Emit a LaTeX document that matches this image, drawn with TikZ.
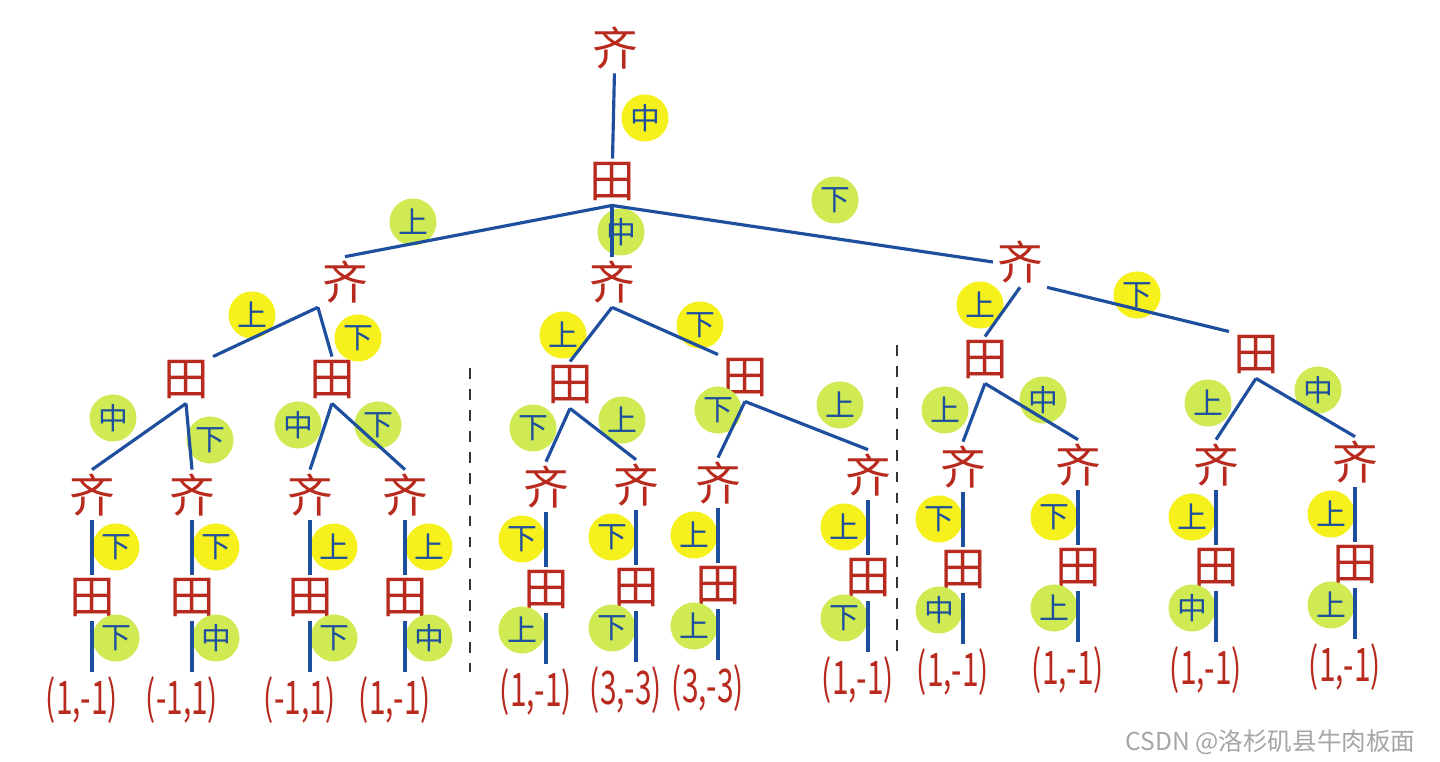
\documentclass[tikz,border=0pt]{standalone}
\usepackage{fontspec}
\newfontfamily\cjk{Noto Sans CJK SC}
\usepackage{xcolor}
\usetikzlibrary{positioning}
\definecolor{qired}{HTML}{B82A1E}
\definecolor{moveblue}{HTML}{1D4F9E}
\definecolor{qimove}{HTML}{F6F01C}
\definecolor{tianmove}{HTML}{CFEA52}

\begin{document}
\begin{tikzpicture}[x=0.01cm, y=-0.01cm,
    player/.style={text=qired, font=\cjk\fontsize{13}{13}\selectfont, inner sep=1pt},
    payoff/.style={text=qired, font=\cjk\fontsize{8.5}{8.5}\selectfont, inner sep=1pt},
    qimv/.style={circle, fill=qimove, text=moveblue, minimum size=0.47cm,
                 inner sep=0pt, font=\cjk\fontsize{8.5}{8.5}\selectfont},
    tianmv/.style={qimv, fill=tianmove},
    edge/.style={moveblue, line width=0.9pt},
    sep/.style={dashed, line width=0.5pt, black!80}
]
    \fill[white] (0,0) rectangle (1440,762);
    \useasboundingbox (0,0) rectangle (1440,762);

    % root and first move
    \node[player] (q0) at (615,48) {齐};
    \node[qimv] (m0) at (645,118) {中};
    \node[player] (t0) at (612,182) {田};

    % second level
    \node[player] (q1) at (345,282) {齐};
    \node[player] (q2) at (612,282) {齐};
    \node[player] (q3) at (1020,262) {齐};
    \node[tianmv] (m1) at (413,222) {上};
    \node[tianmv] (m2) at (621,232) {中};
    \node[tianmv] (m3) at (835,200) {下};

    % third level
    \node[player] (t1) at (186,380) {田};
    \node[player] (t2) at (332,380) {田};
    \node[player] (t3) at (570,385) {田};
    \node[player] (t4) at (745,378) {田};
    \node[player] (t5) at (985,360) {田};
    \node[player] (t6) at (1256,355) {田};
    \node[qimv] (m4) at (252,315) {上};
    \node[qimv] (m5) at (358,338) {下};
    \node[qimv] (m6) at (563,335) {上};
    \node[qimv] (m7) at (700,325) {下};
    \node[qimv] (m8) at (980,305) {上};
    \node[qimv] (m9) at (1137,295) {下};

    % moves of the third level
    \node[tianmv] (n1) at (113,418) {中};
    \node[tianmv] (n2) at (210,440) {下};
    \node[tianmv] (n3) at (298,425) {中};
    \node[tianmv] (n4) at (378,425) {下};
    \node[tianmv] (n5) at (533,428) {下};
    \node[tianmv] (n6) at (622,420) {上};
    \node[tianmv] (n7) at (718,410) {下};
    \node[tianmv] (n8) at (840,405) {上};
    \node[tianmv] (n9) at (945,410) {上};
    \node[tianmv] (n10) at (1043,400) {中};
    \node[tianmv] (n11) at (1208,403) {上};
    \node[tianmv] (n12) at (1318,390) {中};

    % last two moves down to the payoffs
    \foreach \i/\x/\y/\s/\a/\b/\p in {
        1/92/495/1/下/下/{(1,-1)}, 2/192/495/1/下/中/{(-1,1)},
        3/310/495/1/上/下/{(-1,1)}, 4/405/495/1/上/中/{(1,-1)},
        5/546/487/-1/下/上/{(1,-1)}, 6/636/485/-1/下/下/{(3,-3)},
        7/718/483/-1/上/上/{(3,-3)}, 8/868/475/-1/上/下/{(1,-1)},
        9/963/467/-1/下/中/{(1,-1)}, 10/1078/465/-1/下/上/{(1,-1)},
        11/1216/465/-1/上/中/{(1,-1)}, 12/1355/462/-1/上/上/{(1,-1)}} {
        \node[player] (qa\i) at (\x,\y) {齐};
        \node[player] (ta\i) at (\x,{\y+103}) {田};
        \node[payoff] (pay\i) at ({\x-10},{\y+205}) {\scalebox{1}[1.55]{\p}};
        \node[qimv] (ya\i) at ({\x+\s*24},{\y+52}) {\a};
        \node[tianmv] (ga\i) at ({\x+\s*24},{\y+143}) {\b};
        \draw[edge] (qa\i) -- (ta\i);
        \draw[edge] (ta\i.south) -- (ta\i.south |- pay\i.north);
    }

    \draw[edge] (q0) -- (t0);
    \draw[edge] (t0.south) -- (q1.north);
    \draw[edge] (t0.south) -- (q2.north);
    \draw[edge] (t0.south) -- (q3.west);
    \draw[edge] (q1.south west) -- (t1.north east);
    \draw[edge] (q1.south west) -- (t2.north);
    \draw[edge] (q2.south) -- (t3.north);
    \draw[edge] (q2.south) -- (t4.north west);
    \draw[edge] (q3.south) -- (t5.north);
    \draw[edge] (q3.south east) -- (t6.north west);
    \draw[edge] (t1.south) -- (qa1.north);
    \draw[edge] (t1.south) -- (qa2.north);
    \draw[edge] (t2.south) -- (qa3.north);
    \draw[edge] (t2.south) -- (qa4.north);
    \draw[edge] (t3.south) -- (qa5.north);
    \draw[edge] (t3.south) -- (qa6.north);
    \draw[edge] (t4.south) -- (qa7.north);
    \draw[edge] (t4.south) -- (qa8.north);
    \draw[edge] (t5.south) -- (qa9.north);
    \draw[edge] (t5.south) -- (qa10.north);
    \draw[edge] (t6.south) -- (qa11.north);
    \draw[edge] (t6.south) -- (qa12.north);

    % separators between the three subtrees
    \draw[sep] (470,368) -- (470,672);
    \draw[sep] (897,345) -- (897,655);

    \node[font=\cjk\fontsize{7}{7}\selectfont, text=gray!70, anchor=east] (mark) at (1428,742) {CSDN @洛杉矶县牛肉板面};
\end{tikzpicture}
\end{document}
